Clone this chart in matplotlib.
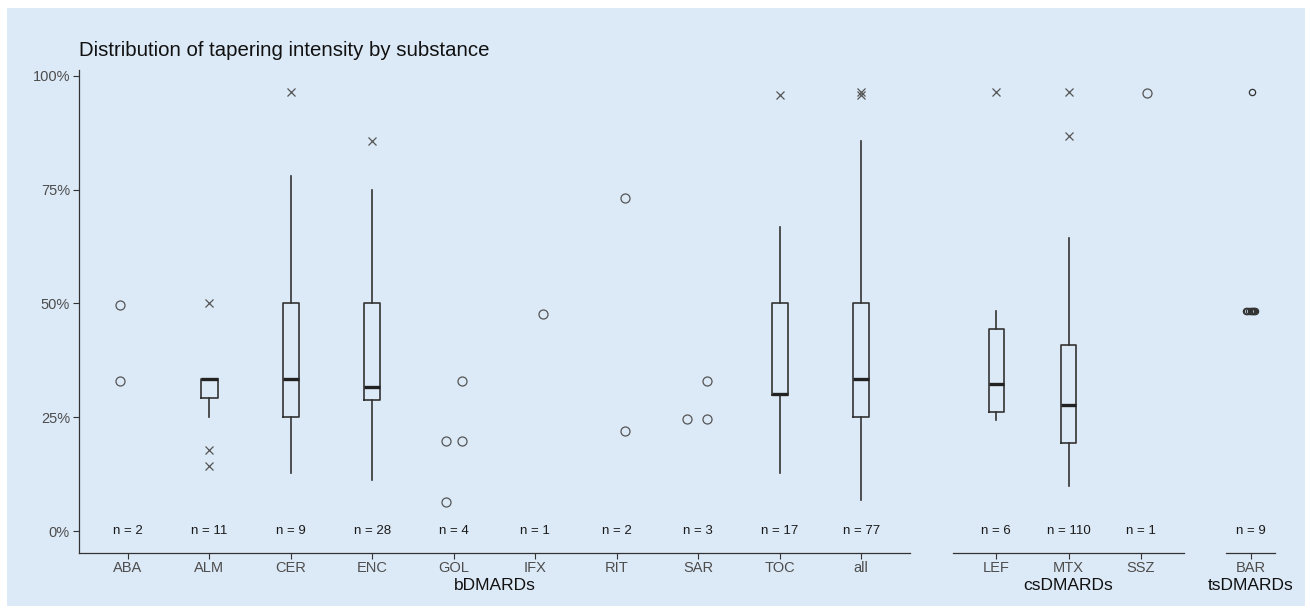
import numpy as np
import matplotlib
matplotlib.use("Agg")
import matplotlib.pyplot as plt
from matplotlib.patches import Rectangle

plt.rcParams['font.family'] = ['Liberation Sans', 'DejaVu Sans']

# tapering intensity in % per substance
groups = ["bDMARDs", "csDMARDs", "tsDMARDs"]
cats_b = ["ABA", "ALM", "CER", "ENC", "GOL", "IFX", "RIT", "SAR", "TOC", "all"]
cats_cs = ["LEF", "MTX", "SSZ"]
cats_ts = ["BAR"]
n_b = [2, 11, 9, 28, 4, 1, 2, 3, 17, 77]
n_cs = [6, 110, 1]
n_ts = [9]

# boxplot stats: whislo, q1, med, q3, whishi, fliers
box_stats = {
    "ALM": (25.0, 29.2, 33.3, 33.5, 33.5, [50.0, 17.7, 14.3]),
    "CER": (12.7, 25.0, 33.3, 50.0, 78.0, [96.5]),
    "ENC": (11.2, 28.7, 31.7, 50.0, 75.0, [85.8]),
    "TOC": (12.7, 29.9, 30.1, 50.0, 66.7, [95.8]),
    "all": (6.8, 25.0, 33.3, 50.0, 85.8, [96.5, 95.8]),
    "LEF": (24.3, 26.2, 32.2, 44.3, 48.4, [96.5]),
    "MTX": (9.8, 19.3, 27.6, 40.8, 64.4, [96.5, 86.8]),
}

# small groups shown as single points
point_vals = {
    "ABA": [49.7, 33.0],
    "GOL": [19.7, 19.7, 33.0, 6.3],
    "IFX": [47.7],
    "RIT": [73.1, 21.9],
    "SAR": [24.7, 24.7, 33.0],
    "SSZ": [96.2],
    "BAR": [48.4, 48.4, 48.4, 48.4, 48.4, 48.4, 48.4, 48.4, 96.5],
}
# jitter (category units)
jitter = {
    "ABA": [-0.1, -0.1],
    "GOL": [-0.1, 0.1, 0.1, -0.1],
    "IFX": [0.1],
    "RIT": [0.1, 0.1],
    "SAR": [-0.14, 0.11, 0.11],
    "SSZ": [0.09],
    "BAR": [-0.12, -0.08, -0.04, 0.0, 0.03, 0.06, 0.09, 0.12, 0.04],
}

bg = "#dce9f6"
W, H = 1310, 614
fig = plt.figure(figsize=(W / 100, H / 100), dpi=100, facecolor="white")
fig.add_artist(Rectangle((7 / W, 8 / H), (W - 12) / W, (H - 16) / H,
                         transform=fig.transFigure, facecolor=bg,
                         edgecolor="none", zorder=-10))

top, bot = 70, 553
panels = [(79, 910, cats_b, n_b, groups[0]),
          (953, 1184, cats_cs, n_cs, groups[1]),
          (1226, 1275, cats_ts, n_ts, groups[2])]

axes = []
for i, (x0, x1, cats, ns, grp) in enumerate(panels):
    ax = fig.add_axes([x0 / W, 1 - bot / H, (x1 - x0) / W, (bot - top) / H])
    ax.set_facecolor("none")
    pos = np.arange(1, len(cats) + 1)
    ax.set_xlim(0.4, len(cats) + 0.6)
    ax.set_ylim(-4.83, 101.3)

    # boxes
    bstats = []
    bpos = []
    for p, c in zip(pos, cats):
        if c in box_stats:
            lo, q1, med, q3, hi, fl = box_stats[c]
            bstats.append(dict(whislo=lo, q1=q1, med=med, q3=q3, whishi=hi,
                               fliers=fl, label=c))
            bpos.append(p)
    if bstats:
        ax.bxp(bstats, positions=bpos, widths=0.2 if i == 0 else 0.21,
               showcaps=False, patch_artist=False,
               boxprops=dict(color="#333333", linewidth=1.2),
               whiskerprops=dict(color="#333333", linewidth=1.2),
               medianprops=dict(color="#222222", linewidth=2.4),
               flierprops=dict(marker="x", markersize=5.5, markeredgecolor="#555555",
                               markeredgewidth=0.9, linestyle="none"))

    # single points
    for p, c in zip(pos, cats):
        if c in point_vals:
            ms = 4.5 if c == "BAR" else 6.5
            ax.plot(p + np.array(jitter[c]), point_vals[c], "o", ms=ms,
                    mfc="none", mec="#555555" if c != "BAR" else "#333333",
                    mew=0.9, linestyle="none")

    # n labels
    for p, n in zip(pos, ns):
        ax.text(p, 0, f"n = {n}", ha="center", va="center", fontsize=9.5,
                color="#1a1a1a")

    ax.set_xticks(pos)
    ax.set_xticklabels(cats, fontsize=10.5, color="#4d4d4d")
    ax.set_xlabel(grp, fontsize=12.5, color="#111111", labelpad=2)
    for s in ["top", "right"]:
        ax.spines[s].set_visible(False)
    ax.spines["bottom"].set_color("#333333")
    ax.spines["bottom"].set_linewidth(0.9)
    ax.tick_params(axis="x", length=4, color="#333333", pad=2)
    if i == 0:
        ax.set_yticks([0, 25, 50, 75, 100])
        ax.set_yticklabels(["0%", "25%", "50%", "75%", "100%"], fontsize=10.5,
                           color="#4d4d4d")
        ax.spines["left"].set_color("#333333")
        ax.spines["left"].set_linewidth(0.9)
        ax.tick_params(axis="y", length=4, color="#333333", pad=2.5)
    else:
        ax.spines["left"].set_visible(False)
        ax.set_yticks([])
    axes.append(ax)

fig.text(79 / W, 1 - 50 / H, "Distribution of tapering intensity by substance",
         fontsize=14.7, color="#111111", ha="left", va="center")

fig.savefig("out.png", dpi=100, facecolor="white")
